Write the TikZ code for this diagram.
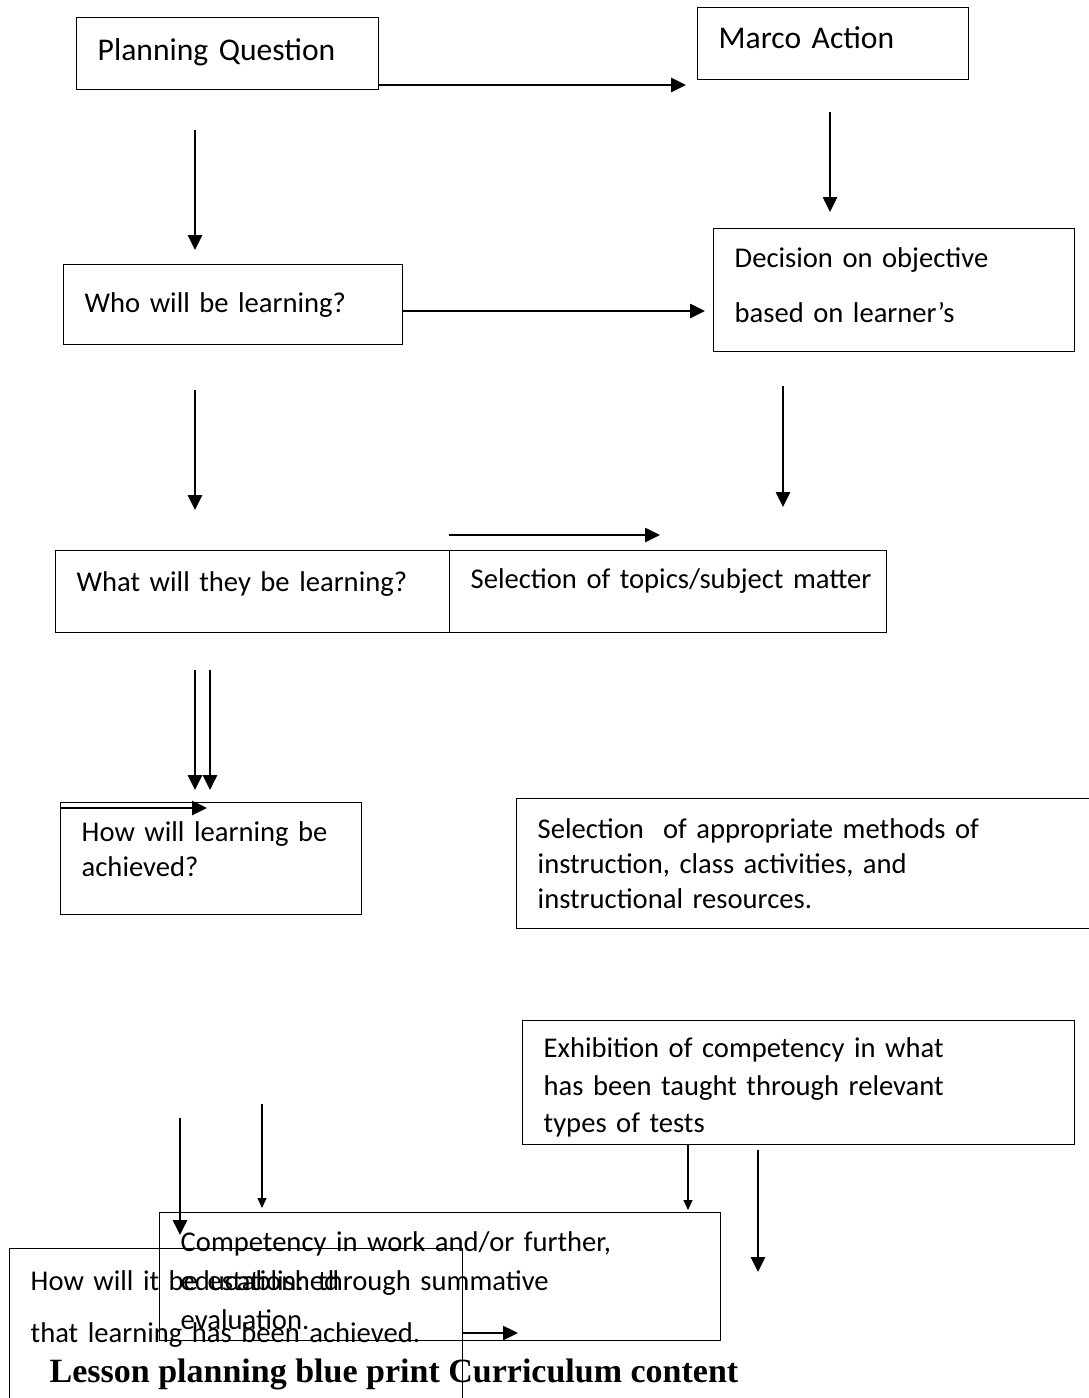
\documentclass[tikz,border=0pt]{standalone}
\usepackage{fontspec}
\setmainfont{Carlito}
\newfontfamily\titlefont{Liberation Serif}
\usetikzlibrary{arrows.meta}

\begin{document}
\begin{tikzpicture}[x=1pt, y=-1pt,
    box/.style={draw, line width=1.4pt, anchor=north west, align=left,
                inner xsep=21pt, inner ysep=0pt, font=\fontsize{28.6}{35}\selectfont},
    bigbox/.style={box, font=\fontsize{31.6}{38}\selectfont},
    flow/.style={line width=1.2pt, -{Triangle[length=10pt,width=9pt]}},
    bigflow/.style={line width=2.6pt, -{Triangle[length=15pt,width=14pt]}}]
  \useasboundingbox (0,0) rectangle (1088,1398);

  % questions (left) and actions (right)
  \node[bigbox, text width=260pt, text height=43pt, text depth=29pt] (plan) at (76,17)
    {Planning Question};
  \node[bigbox, text width=229pt, text height=41pt, text depth=31pt] (macro) at (697,7)
    {Marco Action};
  \node[box, text width=297pt, text height=48pt, text depth=32pt] (who) at (63,264)
    {Who will be learning?};
  \node[box, text width=319pt, text height=39pt, text depth=84pt] (decide) at (713,228)
    {Decision on objective\\[20pt] based on learner's};
  \node[box, text width=352pt, text height=41pt, text depth=41pt] (what) at (55,550)
    {What will they be learning?};
  \node[box, text width=395pt, text height=38pt, text depth=44pt] (topics) at (449,550)
    {\mbox{Selection of topics/subject matter}};
  \node[box, text width=259pt, text height=39pt, text depth=73pt] (how) at (60,802)
    {How will learning be\\ achieved?};
  \node[box, text width=538pt, text height=40pt, text depth=90pt] (methods) at (516,798)
    {Selection\ \ of appropriate methods of\\ instruction, class activities, and\\ instructional resources.};
  \node[box, text width=510pt, text height=37pt, text depth=87pt] (exhibit) at (522,1020)
    {Exhibition of competency in what\\[2.5pt] has been taught through relevant\\[2.5pt] types of tests};
  \node[box, text width=519pt, text height=39pt, text depth=89pt] (compete) at (159,1212)
    {Competency in work and/or further,\\[4pt] education: through summative\\[4pt] evaluation.};
  \node[box, text width=411pt, text height=42pt, text depth=118pt] (establish) at (9,1248)
    {How will it be established\\[17pt] that learning has been achieved.};
  \node[font=\titlefont\fontsize{34}{40}\selectfont\bfseries] (title) at (394,1374)
    {Lesson planning blue print Curriculum content};

  % arrow ends
  \coordinate (plan-r) at (378,85);   \coordinate (macro-l) at (686,85);
  \coordinate (macro-d) at (830,112); \coordinate (decide-u) at (830,212);
  \coordinate (plan-d) at (195,130);  \coordinate (who-u) at (195,250);
  \coordinate (who-r) at (402,311);   \coordinate (decide-l) at (705,311);
  \coordinate (who-d) at (195,390);   \coordinate (what-u) at (195,510);
  \coordinate (decide-d) at (783,386); \coordinate (topics-u) at (783,507);
  \coordinate (what-r) at (449,535);  \coordinate (topics-r) at (660,535);
  \coordinate (what-d1) at (195,670); \coordinate (how-u1) at (195,790);
  \coordinate (what-d2) at (210,670); \coordinate (how-u2) at (210,790);
  \coordinate (how-l) at (60,808);    \coordinate (how-m) at (207,808);
  \coordinate (est-u1) at (180,1118); \coordinate (est-t1) at (180,1235);
  \coordinate (est-u2) at (262,1104); \coordinate (comp-t1) at (262,1208);
  \coordinate (exhibit-d) at (688,1144); \coordinate (comp-t2) at (688,1210);
  \coordinate (exhibit-d2) at (758,1150); \coordinate (comp-r) at (758,1272);
  \coordinate (est-r) at (462,1333);  \coordinate (comp-b) at (518,1333);

  \draw[bigflow] (plan-r) -- (macro-l);
  \draw[bigflow] (macro-d) -- (decide-u);
  \draw[bigflow] (plan-d) -- (who-u);
  \draw[bigflow] (who-r) -- (decide-l);
  \draw[bigflow] (who-d) -- (what-u);
  \draw[bigflow] (decide-d) -- (topics-u);
  \draw[bigflow] (what-r) -- (topics-r);
  \draw[bigflow] (what-d1) -- (how-u1);
  \draw[bigflow] (what-d2) -- (how-u2);
  \draw[bigflow] (how-l) -- (how-m);
  \draw[bigflow] (est-u1) -- (est-t1);
  \draw[flow] (est-u2) -- (comp-t1);
  \draw[flow] (exhibit-d) -- (comp-t2);
  \draw[bigflow] (exhibit-d2) -- (comp-r);
  \draw[bigflow] (est-r) -- (comp-b);
\end{tikzpicture}
\end{document}
